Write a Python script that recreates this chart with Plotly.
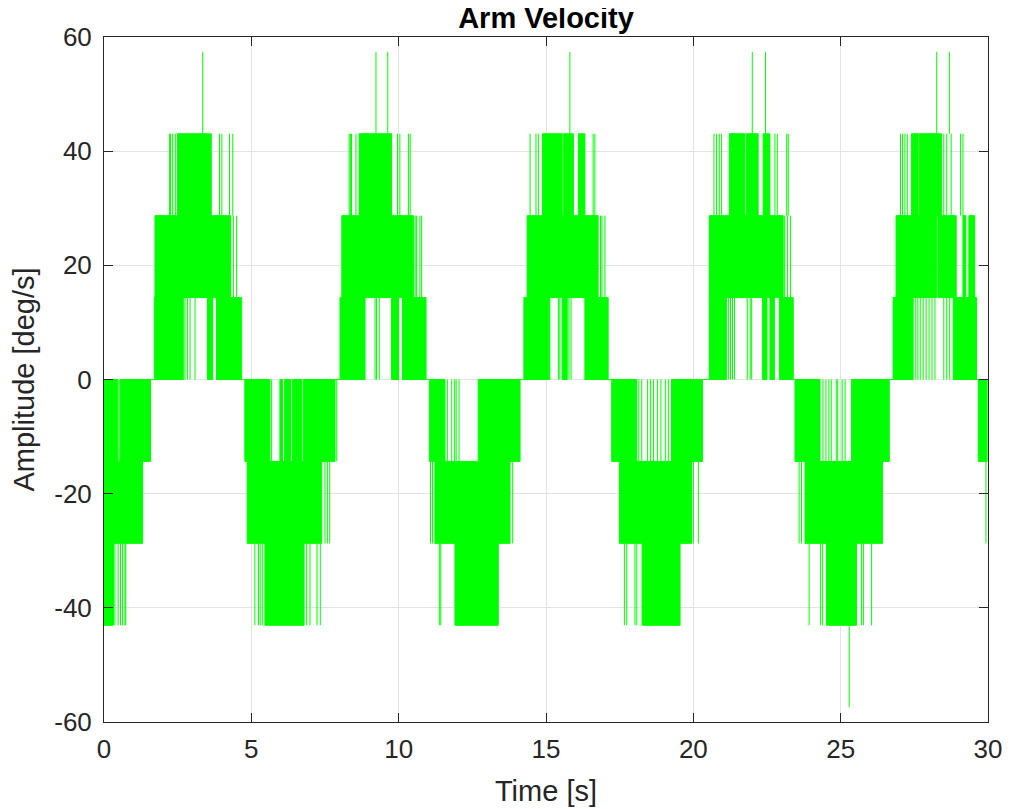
import plotly.graph_objects as go

# Quantised velocity levels (deg/s)
LEVELS = [0.0, 14.35, 28.7, 43.05, 57.4]

# ---- positive half-cycles: dense (solid-looking) intervals and isolated switches ----
pos_b1_solid = [(1.71, 2.69), (3.51, 3.69), (3.82, 4.67),
                (8.01, 8.86), (9.76, 10.0), (10.13, 10.93),
                (14.25, 15.13), (15.55, 15.72), (16.32, 17.11),
                (20.54, 21.13), (22.35, 22.5), (22.6, 22.75), (22.92, 23.39),
                (26.78, 27.46), (28.82, 29.61)]
pos_b1_lines = [2.75, 2.83, 2.92, 3.09,
                9.2, 9.25, 9.34,
                15.42, 15.47, 15.78, 15.85,
                21.2, 21.26, 21.33, 21.4, 21.83, 21.93, 21.98,
                27.55, 27.62, 27.7, 27.8, 27.9, 28.0, 28.1, 28.2, 28.5, 28.6, 28.7]
pos_b2_solid = [(1.73, 4.30), (8.07, 10.5), (14.36, 16.77), (20.54, 23.05),
                (26.88, 28.26), (28.3, 28.92), (29.15, 29.25), (29.35, 29.55)]
pos_b2_lines = [4.39, 4.50, 10.56, 10.61, 10.72, 10.78, 16.85, 16.9, 17.0,
                23.1, 23.2, 23.3]
pos_b3_solid = [(2.49, 3.64), (8.66, 9.76), (14.88, 15.55), (15.6, 15.93), (16.1, 16.32),
                (21.22, 21.75), (21.8, 22.2), (22.37, 22.6),
                (27.4, 27.63), (27.67, 28.42)]
pos_b3_lines = [2.22, 2.26, 2.33, 2.42, 3.92, 4.0, 4.26, 4.37,
                8.32, 8.36, 8.4, 8.55, 9.96, 10.04, 10.33, 10.39,
                14.46, 14.66, 14.74, 16.6, 16.66,
                20.7, 20.79, 20.88, 20.96, 22.77, 22.85, 23.17, 23.22,
                27.03, 27.1, 27.18, 27.26, 28.5, 28.6, 28.75, 29.07, 29.15]
pos_b4_lines = [3.35, 9.23, 9.63, 15.81, 22.0, 22.45, 28.26, 28.69]

# ---- negative half-cycles ----
neg_b1_solid = [(0.0, 0.08), (0.1, 0.17), (0.19, 0.47), (0.55, 1.58),
                (4.78, 5.63), (5.97, 6.06), (6.13, 6.34), (6.4, 6.71), (6.76, 7.84),
                (11.04, 11.57), (12.7, 14.12),
                (17.23, 18.08), (19.26, 20.31),
                (23.45, 24.3), (25.37, 26.65),
                (29.67, 29.97)]
neg_b1_lines = [0.51, 5.69, 7.9,
                11.65, 11.8, 11.9, 11.95, 12.05,
                18.15, 18.25, 18.45, 18.55, 18.65, 18.78, 18.9, 19.05, 19.15,
                24.4, 24.5, 24.6, 24.68, 24.85, 24.9, 25.05, 25.15]
neg_b2_solid = [(0.0, 1.31), (4.86, 7.39), (11.23, 13.78), (17.49, 19.94), (23.79, 26.42)]
neg_b2_lines = [7.5, 7.58, 7.66, 11.08, 11.15, 13.87, 20.0, 20.17, 23.59, 23.67, 29.93]
neg_b3_solid = [(0.0, 0.32), (5.46, 6.79), (11.91, 13.38), (18.26, 19.55), (24.52, 25.54)]
neg_b3_lines = [0.37, 0.48, 0.56, 0.63, 0.71, 0.74,
                5.12, 5.24, 5.3, 5.37, 6.88, 6.99, 7.23, 7.34,
                11.38, 11.43,
                17.66, 17.74, 18.02, 18.08,
                23.93, 24.32, 24.39, 25.71, 25.77, 26.05]
neg_b4_lines = [25.29]

# ---- intervals where the signal rests at zero ----
zero_rest = [(1.58, 1.71), (4.67, 4.78), (7.84, 8.01), (10.93, 11.04), (14.12, 14.25),
             (17.11, 17.23), (20.31, 20.54), (23.39, 23.45), (26.65, 26.78), (29.61, 29.67)]

X_TICKS = [0, 5, 10, 15, 20, 25, 30]
X_TICKTEXT = ["0", "5", "10", "15", "20", "25", "30"]
Y_TICKS = [-60, -40, -20, 0, 20, 40, 60]
Y_TICKTEXT = ["-60", "-40", "-20", "0", "20", "40", "60"]

GREEN = "#00ff00"
INK = "#262626"
FONT = "Liberation Sans, Arial, Helvetica, sans-serif"


def rects(intervals, lo, hi):
    xs, ys = [], []
    for t0, t1 in intervals:
        xs += [t0, t1, t1, t0, t0, None]
        ys += [lo, lo, hi, hi, lo, None]
    return xs, ys


def vlines(times, lo, hi):
    xs, ys = [], []
    for t in times:
        xs += [t, t, None]
        ys += [lo, hi, None]
    return xs, ys


fig = go.Figure()

solid_sets = [(pos_b1_solid, LEVELS[0], LEVELS[1]), (pos_b2_solid, LEVELS[1], LEVELS[2]),
              (pos_b3_solid, LEVELS[2], LEVELS[3]),
              (neg_b1_solid, -LEVELS[0], -LEVELS[1]), (neg_b2_solid, -LEVELS[1], -LEVELS[2]),
              (neg_b3_solid, -LEVELS[2], -LEVELS[3])]
for iv, lo, hi in solid_sets:
    xs, ys = rects(iv, lo, hi)
    fig.add_trace(go.Scatter(x=xs, y=ys, mode="lines", fill="toself", fillcolor=GREEN,
                             line=dict(color=GREEN, width=1), hoverinfo="skip",
                             showlegend=False))

line_sets = [(pos_b1_lines, LEVELS[0], LEVELS[1]), (pos_b2_lines, LEVELS[1], LEVELS[2]),
             (pos_b3_lines, LEVELS[2], LEVELS[3]), (pos_b4_lines, LEVELS[3], LEVELS[4]),
             (neg_b1_lines, -LEVELS[0], -LEVELS[1]), (neg_b2_lines, -LEVELS[1], -LEVELS[2]),
             (neg_b3_lines, -LEVELS[2], -LEVELS[3]), (neg_b4_lines, -LEVELS[3], -LEVELS[4])]
for ts, lo, hi in line_sets:
    xs, ys = vlines(ts, lo, hi)
    fig.add_trace(go.Scatter(x=xs, y=ys, mode="lines", line=dict(color=GREEN, width=1),
                             hoverinfo="skip", showlegend=False))

zx, zy = [], []
for t0, t1 in zero_rest:
    zx += [t0, t1, None]
    zy += [0, 0, None]
fig.add_trace(go.Scatter(x=zx, y=zy, mode="lines", line=dict(color=GREEN, width=1),
                         hoverinfo="skip", showlegend=False))

axis_common = dict(showline=True, linecolor=INK, linewidth=1, mirror="ticks",
                   ticks="inside", ticklen=9, tickcolor=INK, tickwidth=1,
                   showgrid=True, gridcolor="#e3e3e3", gridwidth=1, zeroline=False,
                   automargin=False,
                   tickfont=dict(family=FONT, size=26, color=INK))

fig.update_xaxes(range=[0, 30], tickvals=X_TICKS, ticktext=X_TICKTEXT,
                 ticklabelstandoff=4,
                 title=dict(text="Time [s]", font=dict(family=FONT, size=29, color=INK),
                            standoff=17),
                 **axis_common)
fig.update_yaxes(range=[-60, 60], tickvals=Y_TICKS, ticktext=Y_TICKTEXT,
                 ticklabelstandoff=6,
                 title=dict(text="Amplitude [deg/s]", font=dict(family=FONT, size=29, color=INK),
                            standoff=12),
                 **axis_common)

# the page adds an 8 px body margin, so the figure is sized/shifted to compensate
fig.update_layout(
    width=1009, height=801,
    margin=dict(l=96, r=29, t=29, b=87),
    paper_bgcolor="white", plot_bgcolor="white",
    title=dict(text="<b>Arm Velocity</b>", x=0.5, xref="paper", xanchor="center",
               y=1.0, yanchor="top", yref="container", pad=dict(t=0, b=0),
               font=dict(family=FONT, size=29, color="black")),
    showlegend=False,
)

fig.write_html("out.html")
